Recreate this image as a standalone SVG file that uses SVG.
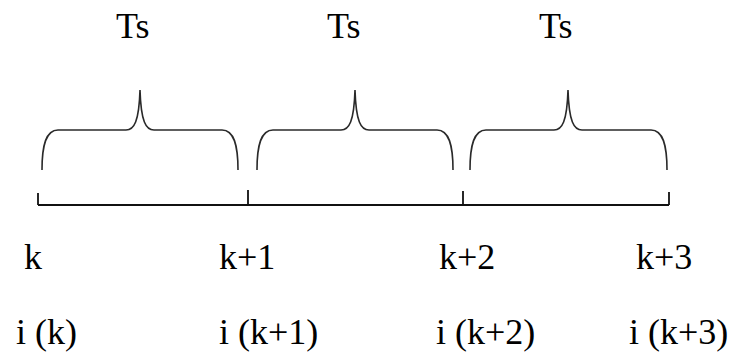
<svg xmlns="http://www.w3.org/2000/svg" width="731" height="353" viewBox="0 0 731 353">
  <style>
    .t { font-family: "Liberation Serif", "Times New Roman", serif; font-size: 36px; fill: #000; }
    .brace { fill: none; stroke: #2a2a2a; stroke-width: 1.6; stroke-linecap: butt; }
    .axis { fill: none; stroke: #111; stroke-width: 1.8; }
  </style>
  <rect width="731" height="353" fill="#fff"/>

  <g id="period-1">
    <path class="brace" d="M42,170 C42,145 46,130 58,130 L126,130 C134,130 139,122 140,90 C141,122 146,130 154,130 L222,130 C234,130 238,145 238,170"/>
    <text class="t" x="116" y="38">Ts</text>
  </g>
  <g id="period-2">
    <path class="brace" d="M257,170 C257,145 261,130 273,130 L341,130 C349,130 354,122 355,90 C356,122 361,130 369,130 L437,130 C449,130 453,145 453,170"/>
    <text class="t" x="327" y="38">Ts</text>
  </g>
  <g id="period-3">
    <path class="brace" d="M470,170 C470,145 474,130 486,130 L554,130 C562,130 567,122 568,90 C569,122 574,130 582,130 L651,130 C663,130 667,145 667,170"/>
    <text class="t" x="539" y="38">Ts</text>
  </g>

  <g id="connectors">
    <line class="axis" x1="38" y1="205" x2="669" y2="205"/>
    <line class="axis" x1="38" y1="193" x2="38" y2="205"/>
    <line class="axis" x1="248" y1="190" x2="248" y2="205"/>
    <line class="axis" x1="463" y1="191" x2="463" y2="205"/>
    <line class="axis" x1="669" y1="192" x2="669" y2="205"/>
  </g>

  <g id="sample-k">
    <text class="t" x="24" y="269">k</text>
    <text class="t" x="16" y="344">i (k)</text>
  </g>
  <g id="sample-k1">
    <text class="t" x="219" y="269">k+1</text>
    <text class="t" x="219" y="344">i (k+1)</text>
  </g>
  <g id="sample-k2">
    <text class="t" x="439" y="269">k+2</text>
    <text class="t" x="436" y="344">i (k+2)</text>
  </g>
  <g id="sample-k3">
    <text class="t" x="636" y="269">k+3</text>
    <text class="t" x="629" y="344">i (k+3)</text>
  </g>
</svg>
